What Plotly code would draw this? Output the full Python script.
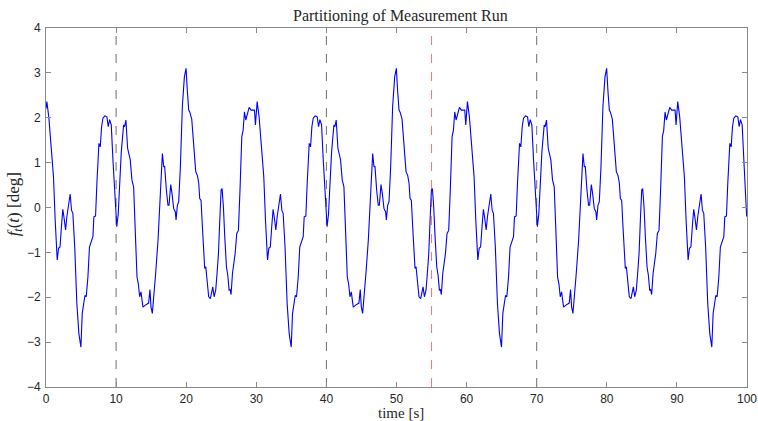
import plotly.graph_objects as go

# One 30 s cycle of the measured deflection signal (time in s, value in deg)
cycle_t = [0.0, 0.12, 0.4, 0.74, 1.07, 1.31, 1.6, 1.79, 2.0, 2.2, 2.4, 2.55, 2.79, 2.98,
           3.17, 3.45, 3.64, 3.83, 4.1, 4.4, 4.69, 4.98, 5.17, 5.4, 5.55, 5.74, 5.98,
           6.2, 6.45, 6.69, 6.83, 7.07, 7.26, 7.55, 7.74, 7.93, 8.12, 8.4, 8.69, 8.88,
           9.07, 9.31, 9.55, 9.79, 9.95, 10.1, 10.3, 10.5, 10.74, 11.07, 11.21, 11.4,
           11.64, 12.02, 12.26, 12.5, 12.74, 12.98, 13.17, 13.36, 13.55, 13.83, 14.12,
           14.4, 14.64, 14.83, 14.98, 15.17, 15.4, 15.64, 15.98, 16.31, 16.6, 16.79,
           16.93, 17.17, 17.4, 17.55, 17.79, 17.98, 18.21, 18.45, 18.55, 18.74, 18.93,
           19.17, 19.45, 19.74, 19.98, 20.17, 20.36, 20.5, 20.64, 20.79, 20.98, 21.17,
           21.36, 21.6, 21.79, 21.93, 22.12, 22.31, 22.5, 22.64, 22.79, 22.98, 23.21,
           23.45, 23.64, 23.79, 23.98, 24.21, 24.4, 24.6, 24.79, 24.98, 25.12, 25.31,
           25.5, 25.74, 25.93, 26.12, 26.26, 26.4, 26.6, 26.74, 26.98, 27.21, 27.45,
           27.69, 27.93, 28.12, 28.31, 28.5, 28.74, 28.98, 29.26, 29.55, 29.74, 29.88]
cycle_v = [2.20, 2.36, 2.02, 1.43, 0.68, -0.28, -1.17, -0.91, -0.88, -0.43, -0.04, -0.20,
           -0.50, -0.20, 0.00, 0.30, -0.06, -0.13, -0.88, -2.14, -2.81, -3.11, -2.36,
           -2.14, -1.96, -1.99, -1.55, -0.88, -0.73, -0.65, -0.21, -0.19, 0.54, 1.43,
           1.35, 1.80, 1.99, 2.04, 2.02, 1.80, 1.96, 1.84, 1.06, 0.31, -0.20, -0.43,
           -0.15, 0.54, 1.24, 1.84, 1.80, 1.95, 1.32, 1.06, 0.61, 0.46, -0.43, -1.55,
           -1.70, -1.99, -1.88, -2.22, -2.18, -2.16, -2.13, -1.83, -2.22, -2.36, -1.99,
           -1.47, -0.73, 0.31, 1.20, 0.91, 0.91, 0.39, 0.05, 0.05, 0.51, 0.31, -0.02,
           -0.10, -0.28, 0.05, 0.13, 0.91, 2.25, 2.91, 3.10, 2.58, 2.17, 2.13, 2.01,
           1.97, 1.58, 1.20, 0.80, 0.71, 0.54, 0.20, 0.16, -0.43, -0.95, -1.36, -1.32,
           -1.70, -1.99, -2.03, -1.92, -1.77, -1.99, -1.84, -1.47, -1.03, -0.28, 0.39,
           0.42, 0.01, -0.65, -1.32, -1.51, -1.84, -1.83, -1.94, -1.47, -1.31, -1.03,
           -0.58, -0.51, 0.46, 1.58, 1.72, 2.13, 1.95, 2.10, 2.23, 2.17, 2.16, 2.17, 1.84]
cycle_period = 30.0
run_end = 100.0

# Partition boundaries
split_gray = [10, 40, 70]
split_red = [55]

x_ticks = [0, 10, 20, 30, 40, 50, 60, 70, 80, 90, 100]
y_ticks = [-4, -3, -2, -1, 0, 1, 2, 3, 4]

# Build the full run by repeating the recorded cycle
t, v = [], []
k = 0
while k * cycle_period < run_end:
    for ct, cv in zip(cycle_t, cycle_v):
        tt = ct + k * cycle_period
        if tt <= run_end:
            t.append(tt)
            v.append(cv)
    k += 1

fig = go.Figure()

for xs in split_gray:
    fig.add_trace(go.Scatter(x=[xs, xs], y=[-4, 4], mode="lines",
                             line=dict(color="#6e6e6e", width=1, dash="dash"),
                             hoverinfo="skip", showlegend=False))
for xs in split_red:
    fig.add_trace(go.Scatter(x=[xs, xs], y=[-4, 4], mode="lines",
                             line=dict(color="#ff7070", width=1, dash="dash"),
                             hoverinfo="skip", showlegend=False))

fig.add_trace(go.Scatter(x=t, y=v, mode="lines",
                         line=dict(color="#0000ff", width=1.1),
                         showlegend=False))

axis_common = dict(
    showline=True, linecolor="#8a8a8a", linewidth=1, mirror="ticks",
    ticks="inside", ticklen=5, tickcolor="#8a8a8a", tickwidth=1,
    showgrid=False, zeroline=False, automargin=False,
    tickfont=dict(family="Liberation Sans, Arial", size=12, color="#262626"),
)

serif = dict(family="Liberation Serif, DejaVu Serif", size=16, color="#262626")

fig.update_layout(
    width=758, height=421,
    margin=dict(l=46, r=11, t=28, b=34),
    paper_bgcolor="white", plot_bgcolor="white",
    xaxis=dict(range=[0, 100], tickvals=x_ticks, ticklabelstandoff=1, **axis_common),
    yaxis=dict(range=[-4, 4], tickvals=y_ticks, ticklabelstandoff=2, **axis_common),
    annotations=[
        dict(text="Partitioning of Measurement Run", font=serif, showarrow=False,
             xref="paper", yref="paper", x=0.505, y=1.034,
             xanchor="center", yanchor="middle"),
        dict(text="time [s]", font=dict(serif, size=15), showarrow=False,
             xref="paper", yref="paper", x=0.507, y=-0.0724,
             xanchor="center", yanchor="middle"),
        dict(text="<i>f</i><sub><i>t</i></sub>(<i>t</i>) [deg]",
             font=dict(family="Liberation Serif, DejaVu Serif", size=17, color="#262626"),
             showarrow=False, textangle=-90,
             xref="paper", yref="paper", x=-0.045, y=0.51,
             xanchor="center", yanchor="middle"),
    ],
)

fig.write_html("out.html")
